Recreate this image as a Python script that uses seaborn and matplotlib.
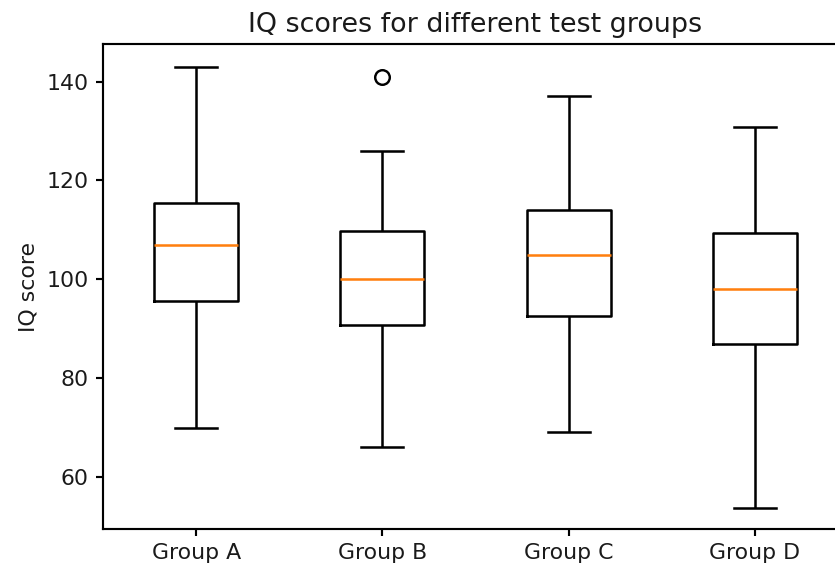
import matplotlib
matplotlib.use("Agg")
import matplotlib.pyplot as plt
import seaborn as sns
import pandas as pd

groups = ["Group A", "Group B", "Group C", "Group D"]
mins = [69.8, 66.0, 69.1, 53.8]
q1s = [95.6, 90.7, 92.6, 86.8]
medians = [106.9, 100.0, 105.0, 98.0]
q3s = [115.4, 109.8, 114.0, 109.3]
maxs = [143.0, 126.0, 137.0, 130.9]
outliers = [[], [141.0], [], []]

rows = []
for g, lo, a, m, b, hi, out in zip(groups, mins, q1s, medians, q3s, maxs, outliers):
    for v in [lo, a, a, m, m, b, b, hi] + out:
        rows.append({"group": g, "score": v})
df = pd.DataFrame(rows)

DPI = 140
fig = plt.figure(figsize=(835 / DPI, 568 / DPI), dpi=DPI)
ax = fig.add_axes([103 / 835, (568 - 529.3) / 568, 745 / 835, (529.3 - 44) / 568])

sns.boxplot(
    data=df, x="group", y="score", order=groups, ax=ax,
    width=0.45, fill=False, color="black", linewidth=1.3, whis=1.5,
    medianprops=dict(color="#ff7f0e", linewidth=1.3),
    flierprops=dict(marker="o", markerfacecolor="none", markeredgecolor="black",
                    markersize=7.5, markeredgewidth=1.25),
)

ax.set_xlim(-0.5, 3.5)
ax.set_ylim(49.4, 147.6)
ax.set_yticks([60, 80, 100, 120, 140])
ax.set_xlabel("")
ax.set_ylabel("IQ score", fontsize=11.3, color="#1a1a1a")
ax.set_title("IQ scores for different test groups", fontsize=13.8, color="#1a1a1a")
ax.tick_params(labelsize=11.3, labelcolor="#1a1a1a", width=1.1, length=3.8)
for s in ax.spines.values():
    s.set_visible(True)
    s.set_color("black")
    s.set_linewidth(1.1)

fig.savefig("out.png", dpi=DPI)
